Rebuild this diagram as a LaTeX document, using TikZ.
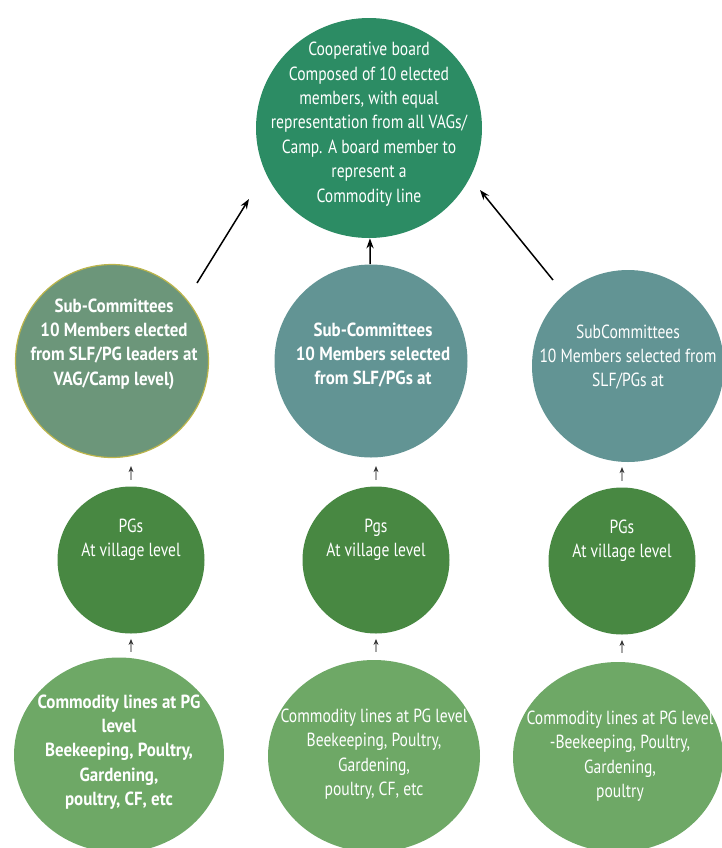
\documentclass[tikz,border=0pt]{standalone}
\usepackage{fontspec}
\setmainfont{PT Sans}[FakeStretch=0.82,BoldFeatures={FakeStretch=0.89}]
\usepackage{tikz}
\usetikzlibrary{calc,arrows.meta,shapes.geometric}
\tikzset{>=stealth}
\definecolor{boardgreen}{RGB}{44,140,100}
\definecolor{subgreen}{RGB}{108,150,122}
\definecolor{subteal}{RGB}{98,148,148}
\definecolor{pggreen}{RGB}{72,136,66}
\definecolor{linegreen}{RGB}{110,168,102}

\begin{document}
\begin{tikzpicture}[x=0.5pt,y=-0.5pt,
  disc/.style={circle,inner sep=0pt,minimum size=#1*0.5pt},
  oval/.style 2 args={ellipse,inner sep=0pt,minimum width=#1*0.5pt,minimum height=#2*0.5pt},
  txt/.style={text=white,align=center,font=\fontsize{9.5}{12.2}\selectfont},
  btxt/.style={txt,font=\fontsize{9.5}{12.2}\selectfont\bfseries},
  bigarrow/.style={-{Stealth[length=5pt,width=3.6pt]},line width=0.75pt},
  tickarrow/.style={-{Stealth[length=3pt,width=2.4pt,color=black!80]},black!35,line width=0.6pt}]

\useasboundingbox (0,0) rectangle (722,848);
\clip (0,0) rectangle (722,848);

% circles
\node[oval={226}{220},fill=boardgreen] (board) at (369,128) {};
\node[disc=193,fill=subgreen,draw=olive!60,line width=0.6pt] (subA) at (112,361) {};
\node[disc=193,fill=subteal] (subB) at (371,361) {};
\node[disc=192,fill=subteal] (subC) at (628,366) {};
\node[disc=147,fill=pggreen] (pgA) at (131,560) {};
\node[disc=147,fill=pggreen] (pgB) at (376,560) {};
\node[disc=147,fill=pggreen] (pgC) at (622,561) {};
\node[oval={210}{195},fill=linegreen] (lineA) at (119,755) {};
\node[oval={212}{192},fill=linegreen] (lineB) at (374,756) {};
\node[oval={210}{190},fill=linegreen] (lineC) at (618,757) {};

% texts
\node[txt] (boardtxt) at ($(board)+(0,-4)$) {Cooperative board\\Composed of 10 elected\\members, with equal\\representation from all VAGs/\\Camp. A board member to\\represent a\\Commodity line};
\node[btxt] (subAtxt) at ($(subA)+(2,-17)$) {Sub-Committees\\10 Members elected\\from SLF/PG leaders at\\VAG/Camp level)};
\node[btxt] (subBtxt) at ($(subB)+(2,-6)$) {Sub-Committees\\10 Members selected\\from SLF/PGs at};
\node[txt] (subCtxt) at ($(subC)+(0,-9)$) {SubCommittees\\10 Members selected from\\SLF/PGs at};
\node[txt] (pgAtxt) at ($(pgA)+(0,-20)$) {PGs\\At village level};
\node[txt] (pgBtxt) at ($(pgB)+(0,-20)$) {Pgs\\At village level};
\node[txt] (pgCtxt) at ($(pgC)+(0,-20)$) {PGs\\At village level};
\node[btxt] (lineAtxt) at ($(lineA)+(0,-3)$) {Commodity lines at PG\\level\\Beekeeping, Poultry,\\Gardening,\\poultry, CF, etc};
\node[txt] (lineBtxt) at ($(lineB)+(0,-2)$) {Commodity lines at PG level\\Beekeeping, Poultry,\\Gardening,\\poultry, CF, etc};
\node[txt] (lineCtxt) at ($(lineC)+(2,-1)$) {Commodity lines at PG level\\-Beekeeping, Poultry,\\Gardening,\\poultry};

% arrows to the board
\draw[bigarrow] (subB) -- (board);
\draw[bigarrow] ($(subA.center)+(85,-78)$) -- ($(board.center)+(-120,71)$);
\draw[bigarrow] ($(subC.center)+(-75,-86)$) -- ($(board.center)+(111,62)$);

% small arrows
\foreach \p in {pgA,pgB,pgC}{
  \draw[tickarrow] ($(\p.north)+(0,-6)$) -- ($(\p.north)+(0,-20)$);
  \draw[tickarrow] ($(\p.south)+(0,18)$) -- ($(\p.south)+(0,5)$);
}
\end{tikzpicture}
\end{document}
